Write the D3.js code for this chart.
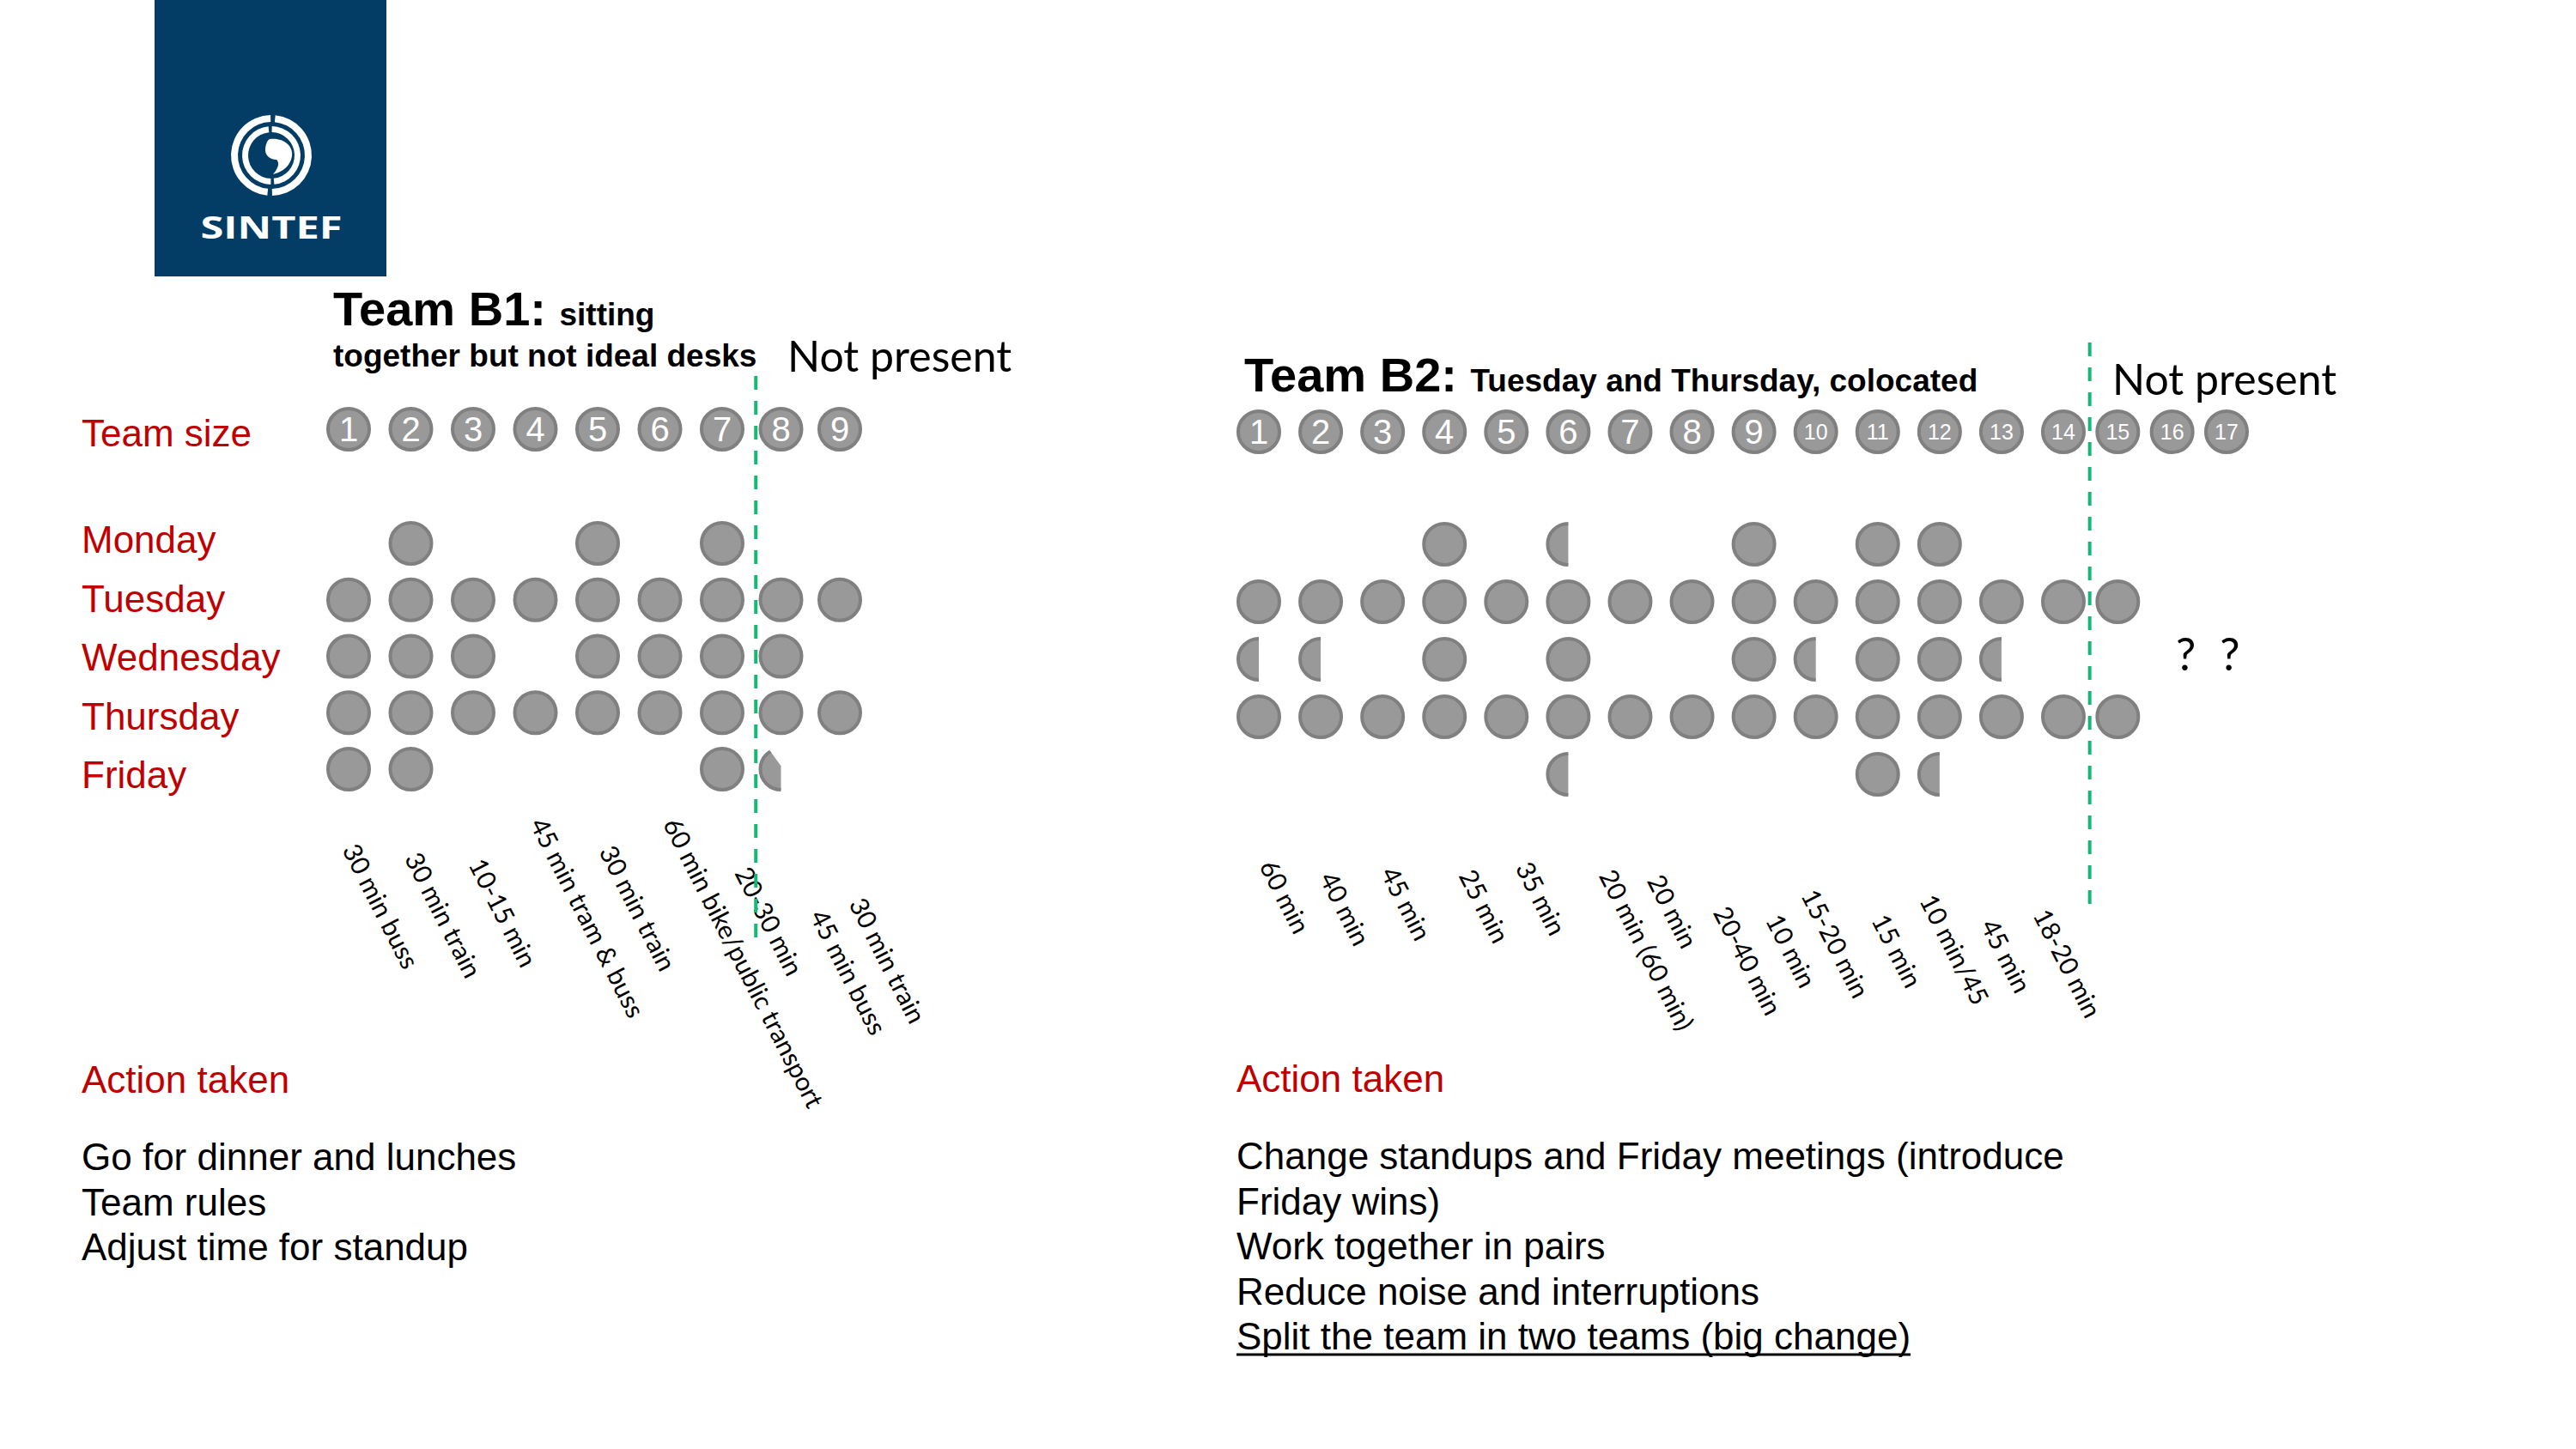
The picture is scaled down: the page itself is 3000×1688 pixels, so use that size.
<!DOCTYPE html>
<html>
<head>
<meta charset="utf-8">
<script src="https://cdn.jsdelivr.net/npm/d3@7"></script>
<style>
  body { margin: 0; background: #fff; }
  svg { display: block; }
</style>
</head>
<body>
<div id="chart"></div>
<script>
// weekdays, rows of both grids
const days = ["Monday", "Tuesday", "Wednesday", "Thursday", "Friday"];

// Team B1: member numbers and presence per day (1 = full day, 0.5 = half, 0.25 = partly)
const b1Members = [1, 2, 3, 4, 5, 6, 7, 8, 9];
const b1Mon = [0, 1, 0, 0, 1, 0, 1, 0, 0];
const b1Tue = [1, 1, 1, 1, 1, 1, 1, 1, 1];
const b1Wed = [1, 1, 1, 0, 1, 1, 1, 1, 0];
const b1Thu = [1, 1, 1, 1, 1, 1, 1, 1, 1];
const b1Fri = [1, 1, 0, 0, 0, 0, 1, 0.25, 0];
const b1Commute = ["30 min buss", "30 min train", "10-15 min", "45 min tram & buss", "30 min train",
  "60 min bike/public transport", "20-30 min", "45 min buss", "30 min train"];
const b1Present = 7;

// Team B2
const b2Members = [1, 2, 3, 4, 5, 6, 7, 8, 9, 10, 11, 12, 13, 14, 15, 16, 17];
const b2Mon = [0, 0, 0, 1, 0, 0.5, 0, 0, 1, 0, 1, 1, 0, 0, 0, 0, 0];
const b2Tue = [1, 1, 1, 1, 1, 1, 1, 1, 1, 1, 1, 1, 1, 1, 1, 0, 0];
const b2Wed = [0.5, 0.5, 0, 1, 0, 1, 0, 0, 1, 0.5, 1, 1, 0.5, 0, 0, 0, 0];
const b2Thu = [1, 1, 1, 1, 1, 1, 1, 1, 1, 1, 1, 1, 1, 1, 1, 0, 0];
const b2Fri = [0, 0, 0, 0, 0, 0.5, 0, 0, 0, 0, 1, 0.5, 0, 0, 0, 0, 0];
const b2Commute = ["60 min", "40 min", "45 min", "25 min", "35 min", "20 min (60 min)", "20 min",
  "20-40 min", "10 min", "15-20 min", "15 min", "10 min/45", "45 min", "18-20 min"];
const b2Present = 14;

const b1Actions = ["Go for dinner and lunches", "Team rules", "Adjust time for standup"];
const b2Actions = ["Change standups and Friday meetings (introduce", "Friday wins)", "Work together in pairs",
  "Reduce noise and interruptions", "Split the team in two teams (big change)"];

// label placement tweaks (hand placed in the original slide)
const b1LabelShift = [[-8, -10], [-8, 0], [-6, 7], [-7, -40], [1, -8], [3, -40], [14, 17], [33, 67], [10, 53]];
const b2LabelShift = [[0, 9], [-2, 23], [-3, 17], [16, 20], [10, 11], [35, 20], [19, 26], [24, 63],
  [13, 72], [-18, 43], [-8, 72], [-24, 49], [-25, 78], [-36, 66]];

const W = 3000, H = 1688;
const ARIAL = "'Liberation Sans', Arial, sans-serif";
const CALIBRI = "Lato, 'Open Sans', sans-serif";
const RED = "#c00000";
const GREEN = "#16b877";
const DOT_FILL = "#999999", DOT_STROKE = "#808080";

const svg = d3.select("#chart").append("svg")
  .attr("width", W)
  .attr("height", H);

const defs = svg.append("defs");
defs.append("clipPath").attr("id", "half")
  .attr("clipPathUnits", "objectBoundingBox")
  .append("rect").attr("x", -0.2).attr("y", -0.2).attr("width", 0.7).attr("height", 1.4);
defs.append("clipPath").attr("id", "part")
  .attr("clipPathUnits", "objectBoundingBox")
  .append("polygon").attr("points", "-0.2,-0.2 0.05,-0.2 0.5,0.42 0.5,1.2 -0.2,1.2");

// ---- logo
const logo = svg.append("g");
logo.append("rect").attr("x", 180).attr("y", 0).attr("width", 270).attr("height", 322).attr("fill", "#033d66");
const ring = d3.arc();
const lc = [316, 181];
[[39, 47, 0.1, Math.PI - 0.02], [39, 47, Math.PI + 0.1, 2 * Math.PI - 0.02],
 [27, 34, 0.02, Math.PI - 0.1], [27, 34, Math.PI + 0.02, 2 * Math.PI - 0.1]].forEach(a => {
  logo.append("path")
    .attr("transform", `translate(${lc[0]},${lc[1]})`)
    .attr("d", ring({ innerRadius: a[0], outerRadius: a[1], startAngle: a[2], endAngle: a[3] }))
    .attr("fill", "#fff");
});
logo.append("path")
  .attr("d", "M314,162 C330,160 342,170 340,182 C338,193 330,200 318,203 C324,196 326,190 322,186 C314,186 308,180 309,173 C310,166 312,163 314,162 Z")
  .attr("fill", "#fff");
logo.append("text").attr("x", 316).attr("y", 278)
  .attr("text-anchor", "middle")
  .attr("font-family", "'Open Sans', " + ARIAL).attr("font-weight", 700).attr("font-size", 35)
  .attr("textLength", 165).attr("lengthAdjust", "spacingAndGlyphs")
  .attr("fill", "#fff").text("SINTEF");

// ---- row labels (shared)
const yLabel = d3.scalePoint().domain(days).range([644, 918]);
svg.append("text").attr("x", 95).attr("y", 520)
  .attr("font-family", ARIAL).attr("font-size", 44).attr("fill", RED).text("Team size");
svg.append("g").selectAll("text").data(days).join("text")
  .attr("x", 95).attr("y", d => yLabel(d))
  .attr("font-family", ARIAL).attr("font-size", 44).attr("fill", RED)
  .text(d => d);

function drawTeam(t) {
  const g = svg.append("g");
  const x = d3.scaleLinear().domain(t.colDomain).range(t.colRange);
  const y = d3.scalePoint().domain(days).range(t.rowRange);

  // title
  const title = g.append("text").attr("x", t.titleX).attr("y", t.titleY)
    .attr("font-family", ARIAL).attr("font-weight", 700).attr("fill", "#000");
  title.append("tspan").attr("font-size", 56).text(t.title + " ");
  title.append("tspan").attr("font-size", 37).text(t.subtitle[0]);
  if (t.subtitle[1]) {
    g.append("text").attr("x", t.titleX).attr("y", t.titleY + 48)
      .attr("font-family", ARIAL).attr("font-weight", 700).attr("font-size", 37)
      .text(t.subtitle[1]);
  }
  g.append("text").attr("x", t.notX).attr("y", t.notY)
    .attr("font-family", CALIBRI).attr("font-size", 50).text("Not present");

  // numbered member circles
  const num = g.append("g").selectAll("g").data(t.members).join("g")
    .attr("transform", d => `translate(${x(d)},${t.numY})`);
  num.append("circle").attr("r", 24)
    .attr("fill", DOT_FILL).attr("stroke", DOT_STROKE).attr("stroke-width", 4);
  num.append("text")
    .attr("text-anchor", "middle")
    .attr("y", d => d < 10 ? 14 : 9)
    .attr("font-family", ARIAL)
    .attr("font-size", d => d < 10 ? 40 : 25)
    .attr("fill", "#fff")
    .text(d => d);

  // presence dots
  const cells = [];
  days.forEach((day, i) => {
    t.rows[i].forEach((v, j) => { if (v > 0) cells.push({ day, member: t.members[j], v }); });
  });
  g.append("g").selectAll("circle").data(cells).join("circle")
    .attr("cx", d => x(d.member))
    .attr("cy", d => y(d.day))
    .attr("r", 24)
    .attr("fill", DOT_FILL).attr("stroke", DOT_STROKE).attr("stroke-width", 4)
    .attr("clip-path", d => d.v === 1 ? null : d.v === 0.5 ? "url(#half)" : "url(#part)");

  // commute labels
  g.append("g").selectAll("text").data(t.commute).join("text")
    .attr("transform", (d, i) => {
      const s = t.shift[i];
      return `translate(${x(t.members[i]) + s[0]},${t.labelY + s[1]}) rotate(63)`;
    })
    .attr("font-family", CALIBRI).attr("font-size", 30).attr("fill", "#000")
    .text(d => d);

  // divider between present and not present members
  const dx = (x(t.present) + x(t.present + 1)) / 2 + t.lineNudge;
  g.append("line")
    .attr("x1", dx).attr("x2", dx).attr("y1", t.lineY[0]).attr("y2", t.lineY[1])
    .attr("stroke", GREEN).attr("stroke-width", 4).attr("stroke-dasharray", "16 13");

  // actions
  g.append("text").attr("x", t.actX).attr("y", t.actY)
    .attr("font-family", ARIAL).attr("font-size", 44).attr("fill", RED).text("Action taken");
  const lines = g.append("g").selectAll("text").data(t.actions).join("text")
    .attr("x", t.actX).attr("y", (d, i) => t.actY + 90 + i * 52.5)
    .attr("font-family", ARIAL).attr("font-size", 44).attr("fill", "#000")
    .text(d => d);
  if (t.underlineLast) {
    const last = lines.filter((d, i) => i === t.actions.length - 1);
    const len = last.node().getComputedTextLength();
    const ly = t.actY + 90 + (t.actions.length - 1) * 52.5 + 6;
    g.append("line").attr("x1", t.actX).attr("x2", t.actX + len)
      .attr("y1", ly).attr("y2", ly).attr("stroke", "#000").attr("stroke-width", 3);
  }
  return { x, y, g };
}

drawTeam({
  title: "Team B1:", subtitle: ["sitting", "together but not ideal desks"],
  titleX: 388, titleY: 379, notX: 917, notY: 433,
  members: b1Members, rows: [b1Mon, b1Tue, b1Wed, b1Thu, b1Fri], commute: b1Commute, shift: b1LabelShift,
  colDomain: [1, 7, 9], colRange: [406, 841, 978], rowRange: [633, 896], numY: 500,
  labelY: 1000, present: b1Present, lineNudge: 5, lineY: [438, 1095],
  actions: b1Actions, actX: 95, actY: 1273, underlineLast: false
});

const t2 = drawTeam({
  title: "Team B2:", subtitle: ["Tuesday and Thursday, colocated"],
  titleX: 1449, titleY: 456, notX: 2460, notY: 460,
  members: b2Members, rows: [b2Mon, b2Tue, b2Wed, b2Thu, b2Fri], commute: b2Commute, shift: b2LabelShift,
  colDomain: [1, 14, 17], colRange: [1466, 2403, 2593], rowRange: [634, 902], numY: 503,
  labelY: 1000, present: b2Present, lineNudge: -1, lineY: [399, 1056],
  actions: b2Actions, actX: 1440, actY: 1272, underlineLast: true
});

// unknown attendance for the absent members
t2.g.append("g").selectAll("text").data([16, 17]).join("text")
  .attr("x", d => t2.x(d) + (d === 16 ? 16 : 4))
  .attr("y", t2.y("Wednesday") + 13)
  .attr("text-anchor", "middle")
  .attr("font-family", CALIBRI).attr("font-size", 52)
  .text("?");
</script>
</body>
</html>
